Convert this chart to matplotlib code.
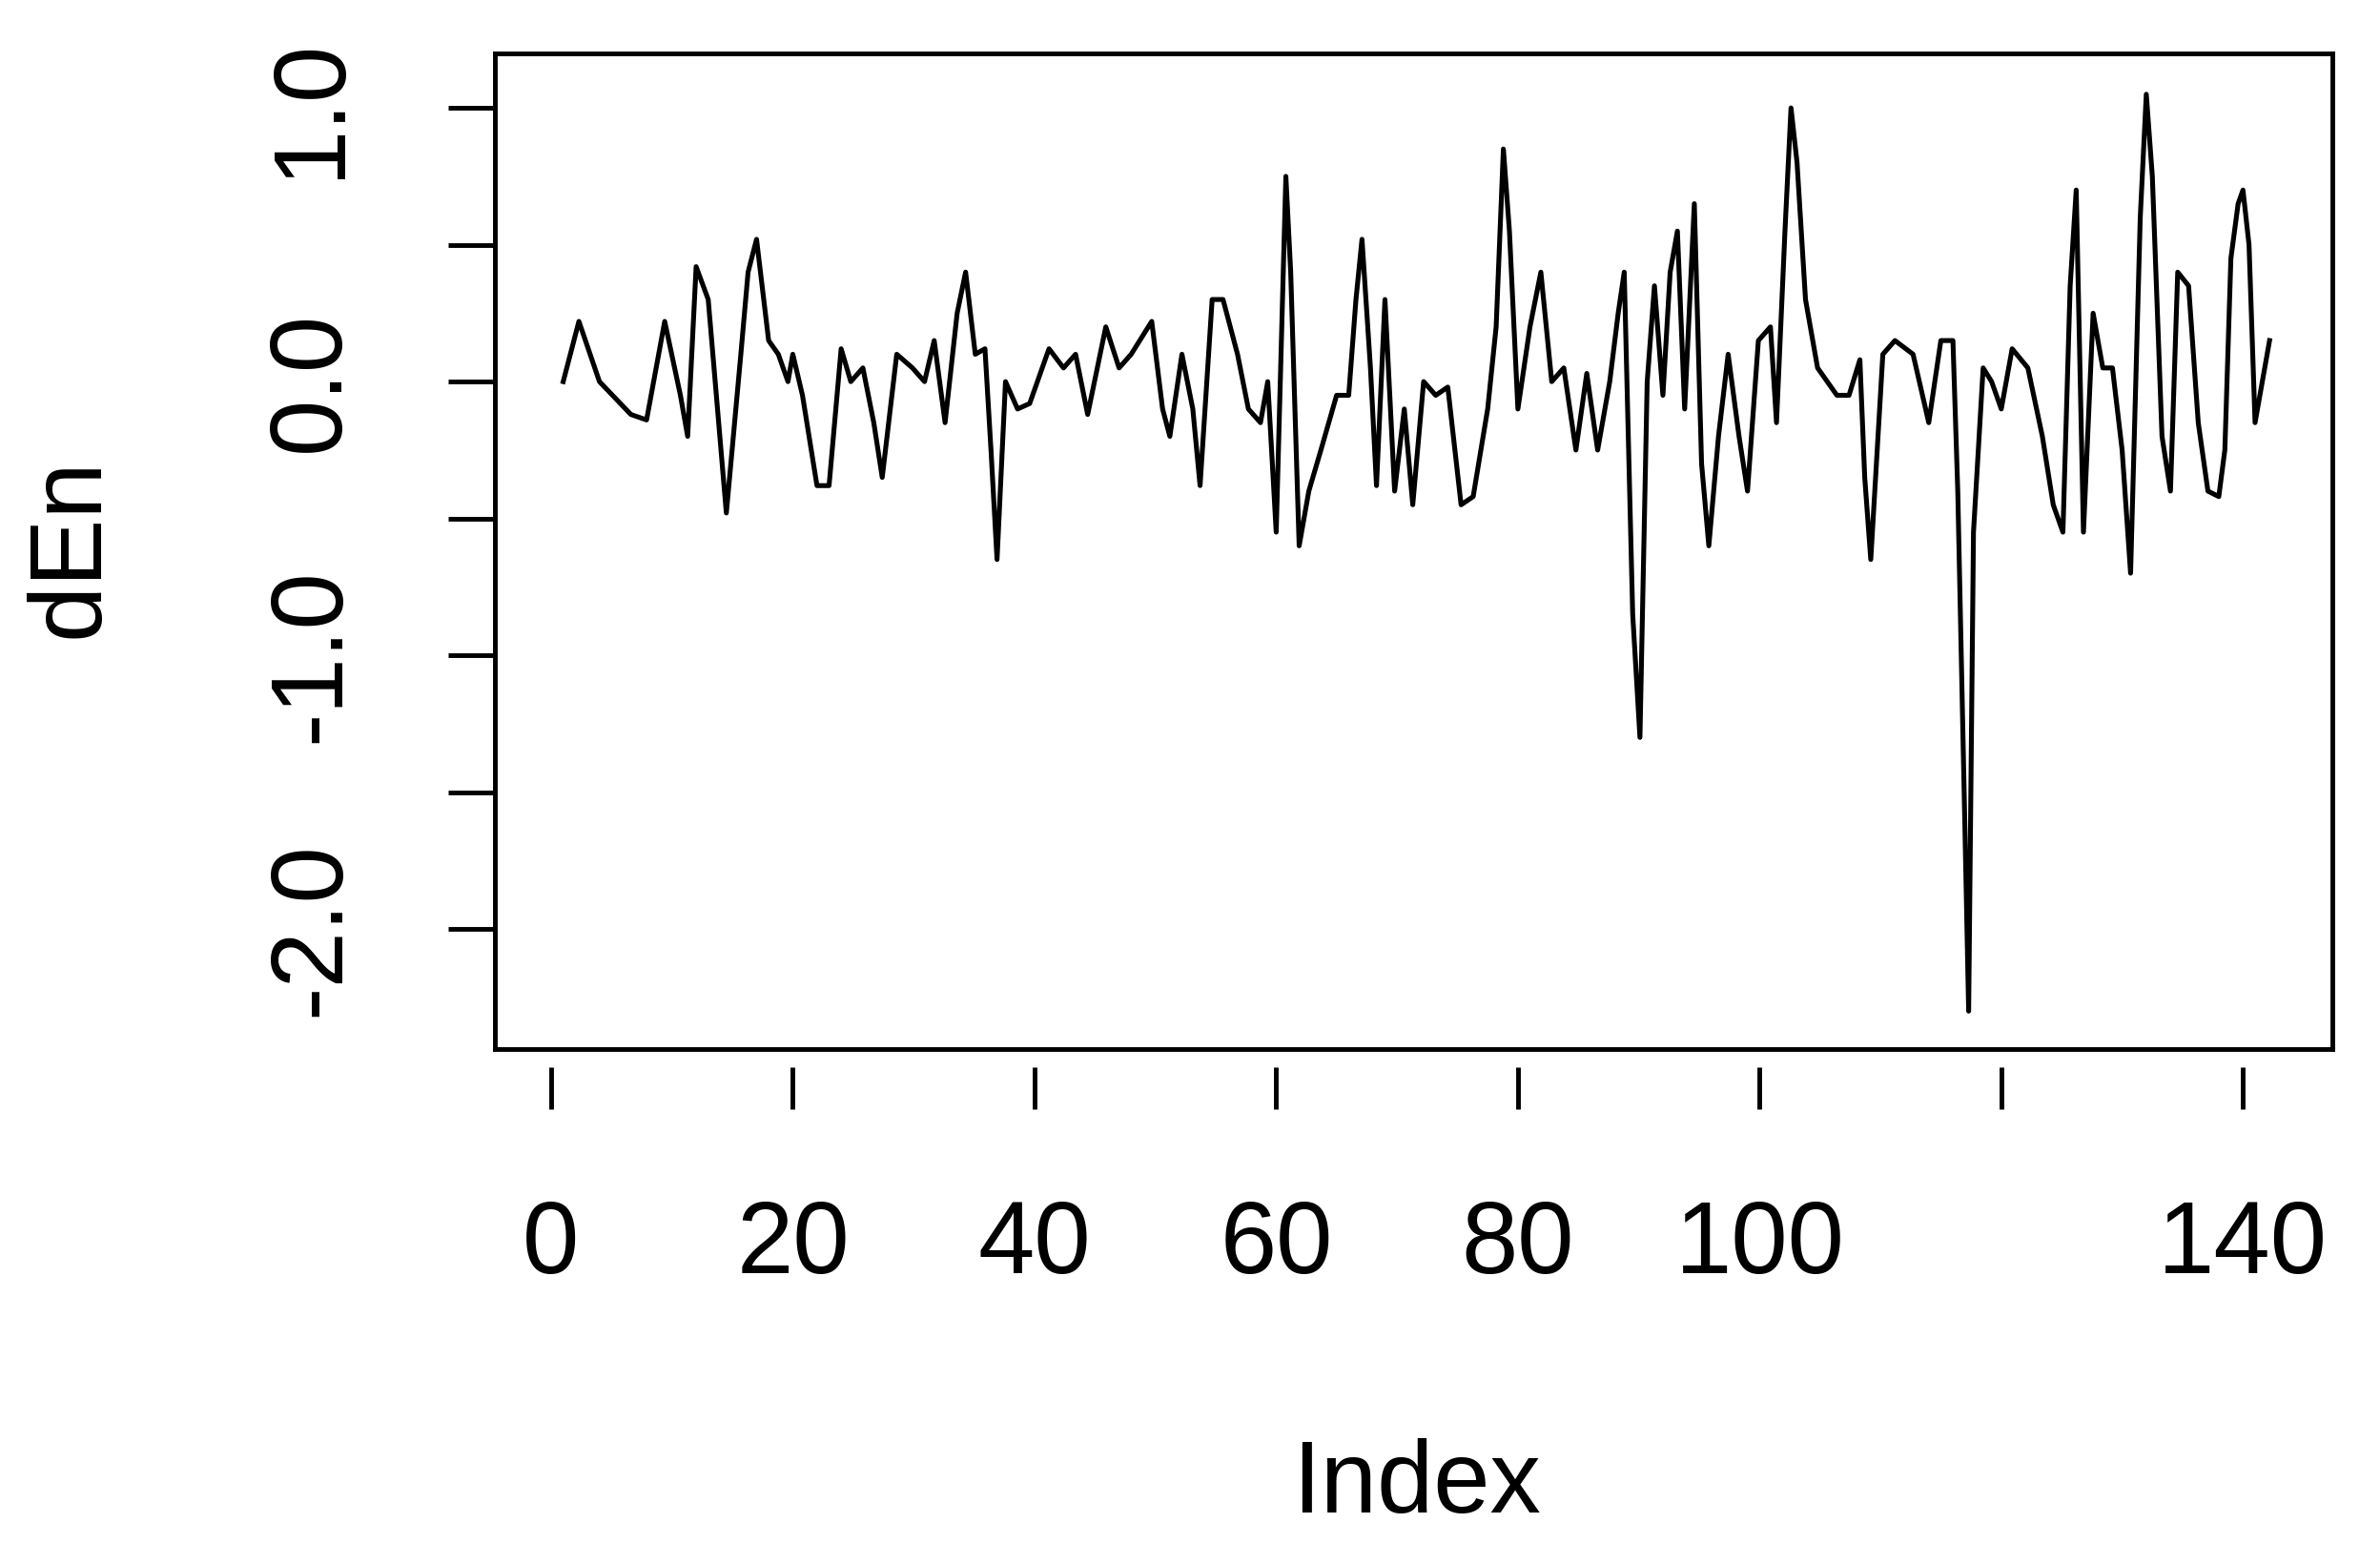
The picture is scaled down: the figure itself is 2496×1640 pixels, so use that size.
import matplotlib.pyplot as plt

# estimated index positions and dEn values
index = [1, 2.3, 4, 6.6, 7.9, 9.4, 10.7, 11.3, 12, 13, 14.5, 15.7, 16.3, 17, 18, 18.8,
         19.6, 20, 20.8, 22, 23, 24, 24.8, 25.8, 26.7, 27.4, 28.6, 29.9, 30.9, 31.7,
         32.6, 33.6, 34.3, 35.1, 35.9, 36.4, 36.9, 37.6, 38.6, 39.6, 41.2, 42.4, 43.4,
         44.4, 45.9, 47, 48, 49.7, 50.6, 51.2, 52.2, 53.1, 53.7, 54.7, 55.6, 56.8, 57.7,
         58.7, 59.3, 60, 60.8, 61.2, 61.9, 62.7, 63.7, 65, 66, 66.6, 67.1, 67.8, 68.3,
         69, 69.8, 70.6, 71.3, 72.2, 73.2, 74.2, 75.3, 76.3, 77.5, 78.2, 78.8, 79.3, 80,
         81, 81.9, 82.8, 83.8, 84.8, 85.7, 86.6, 87.6, 88.3, 88.8, 89.5, 90.1, 90.7,
         91.3, 92, 92.6, 93.2, 93.8, 94.6, 95.2, 95.8, 96.6, 97.4, 98.3, 99, 99.9,
         100.9, 101.4, 102.1, 102.6, 103.1, 103.8, 104.8, 106.4, 107.4, 108.3, 108.7,
         109.2, 110.2, 111.2, 112.7, 114, 115, 116, 116.4, 117, 117.3, 117.7, 118.5,
         119.2, 120, 120.9, 122.2, 123.4, 124.3, 125.1, 125.7, 126.2, 126.8, 127.6,
         128.4, 129.2, 130, 130.7, 131.5, 132, 132.5, 133.3, 134, 134.6, 135.5, 136.3,
         137.1, 138, 138.5, 139, 139.6, 140, 140.5, 141, 141.6, 142.2]
dEn = [0.0, 0.22, 0.0, -0.12, -0.14, 0.22, -0.05, -0.2, 0.42, 0.3, -0.48, 0.1, 0.4,
       0.52, 0.15, 0.1, 0.0, 0.1, -0.05, -0.38, -0.38, 0.12, 0.0, 0.05, -0.15, -0.35,
       0.1, 0.05, 0.0, 0.15, -0.15, 0.25, 0.4, 0.1, 0.12, -0.25, -0.65, 0.0, -0.1,
       -0.08, 0.12, 0.05, 0.1, -0.12, 0.2, 0.05, 0.1, 0.22, -0.1, -0.2, 0.1, -0.1,
       -0.38, 0.3, 0.3, 0.1, -0.1, -0.15, 0.0, -0.55, 0.75, 0.4, -0.6, -0.4, -0.25,
       -0.05, -0.05, 0.3, 0.52, 0.05, -0.38, 0.3, -0.4, -0.1, -0.45, 0.0, -0.05, -0.02,
       -0.45, -0.42, -0.1, 0.2, 0.85, 0.55, -0.1, 0.2, 0.4, 0.0, 0.05, -0.25, 0.03,
       -0.25, 0.0, 0.25, 0.4, -0.85, -1.3, 0.0, 0.35, -0.05, 0.4, 0.55, -0.1, 0.65,
       -0.3, -0.6, -0.2, 0.1, -0.2, -0.4, 0.15, 0.2, -0.15, 0.55, 1.0, 0.8, 0.3, 0.05,
       -0.05, -0.05, 0.08, -0.35, -0.65, 0.1, 0.15, 0.1, -0.15, 0.15, 0.15, -0.4,
       -1.65, -2.3, -0.55, 0.05, 0.0, -0.1, 0.12, 0.05, -0.2, -0.45, -0.55, 0.35, 0.7,
       -0.55, 0.25, 0.05, 0.05, -0.25, -0.7, 0.6, 1.05, 0.75, -0.2, -0.4, 0.4, 0.35,
       -0.15, -0.4, -0.42, -0.25, 0.45, 0.65, 0.7, 0.5, -0.15, 0.0, 0.15]

xticks = [0, 20, 40, 60, 80, 100, 120, 140]
xticklabels = ['0', '20', '40', '60', '80', '100', '', '140']
yticks = [-2.0, -1.5, -1.0, -0.5, 0.0, 0.5, 1.0]
yticklabels = ['-2.0', '', '-1.0', '', '0.0', '', '1.0']

plt.rcParams['font.family'] = ['Liberation Sans', 'DejaVu Sans']

fig = plt.figure(figsize=(15.6, 10.25), dpi=160)
ax = fig.add_axes([0.208, 0.329, 0.777, 0.637])
ax.set_position([0.208, 0.329, 0.7775 - 0.0055, 0.637])
ax.plot(index, dEn, color='black', linewidth=2.3)
ax.set_xlim(-4.64, 147.4)
ax.set_ylim(-2.44, 1.2)

for s in ax.spines.values():
    s.set_linewidth(2.2)

ax.set_xticks([])
sec = ax.secondary_xaxis(-0.018)
sec.spines['bottom'].set_visible(False)
sec.set_xticks(xticks)
sec.set_xticklabels(xticklabels)
sec.tick_params(axis='x', length=20, width=2.2, pad=42, labelsize=48)

ax.set_yticks(yticks)
ax.set_yticklabels(yticklabels, rotation=90, va='center')
ax.tick_params(axis='y', length=22, width=2.2, pad=42, labelsize=48)

fig.text(0.595, 0.05, 'Index', ha='center', va='center', fontsize=48)
fig.text(0.03, 0.65, 'dEn', ha='center', va='center', rotation=90, fontsize=48)

fig.savefig('out.png', dpi=160)
